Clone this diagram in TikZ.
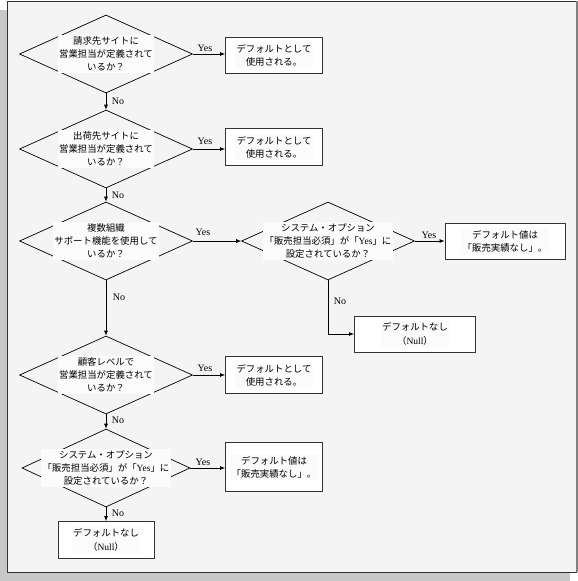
\documentclass[tikz,border=0pt]{standalone}
\usepackage{fontspec}
\setmainfont{Liberation Serif}
\newfontfamily\cjk{Noto Sans CJK JP}
\usetikzlibrary{shapes.geometric,arrows.meta}
\definecolor{pagebg}{HTML}{F4F4F4}
\definecolor{shadowc}{HTML}{C8C8C8}
\definecolor{textbg}{HTML}{FBFBFB}
\tikzset{
  dia/.style={diamond,draw=black,line width=0.7pt,minimum width=173pt,minimum height=78pt,inner sep=0pt},
  dias/.style={dia,minimum width=168pt},
  box/.style={rectangle,draw=black!80,line width=0.9pt,fill=white,inner sep=0pt},
  txt/.style={align=center,font=\cjk\fontsize{9.4}{13.2}\selectfont,fill=textbg,inner sep=1.5pt},
  lbl/.style={font=\fontsize{10}{12}\selectfont,inner sep=1pt},
  arr/.style={-{Latex[length=5pt,width=4pt]},line width=0.7pt}
}
\newcommand{\rmy}[1]{{\rmfamily\fontsize{9.5}{12}\selectfont #1}}
\begin{document}
\begin{tikzpicture}[x=1pt,y=-1pt]
\useasboundingbox (0,0) rectangle (578,581);
\fill[shadowc] (0,10) rectangle (570,581);
\filldraw[fill=pagebg,draw=black!80,line width=0.9pt] (7,1) rectangle (576,572);
\draw[black!50,line width=1.6pt] (577,1) -- (577,572);

% decisions
\node[dia] (d1) at (106,54) {};
\node[txt] (t1) at (d1) {請求先サイトに\\営業担当が定義されて\\いるか？};
\node[dia] (d2) at (106,149) {};
\node[txt] (t2) at (d2) {出荷先サイトに\\営業担当が定義されて\\いるか？};
\node[dia] (d3) at (106,241) {};
\node[txt] (t3) at (d3) {複数組織\\サポート機能を使用して\\いるか？};
\node[dia] (d4) at (328,241) {};
\node[txt] (t4) at (d4) {システム・オプション\\「販売担当必須」が「\rmy{Yes}」に\\設定されているか？};
\node[dia] (d5) at (106,375) {};
\node[txt] (t5) at (d5) {顧客レベルで\\営業担当が定義されて\\いるか？};
\node[dias] (d6) at (106,468) {};
\node[txt] (t6) at (d6) {システム・オプション\\「販売担当必須」が「\rmy{Yes}」に\\設定されているか？};

% boxes
\node[box,minimum width=97pt,minimum height=36pt] (b1) at (274,55) {};
\node[txt] (u1) at (b1) {デフォルトとして\\使用される。};
\node[box,minimum width=97pt,minimum height=37pt] (b2) at (274,147) {};
\node[txt] (u2) at (b2) {デフォルトとして\\使用される。};
\node[box,minimum width=120pt,minimum height=36pt] (b3) at (505,241) {};
\node[txt] (u3) at (b3) {デフォルト値は\\「販売実績なし」。};
\node[box,minimum width=121pt,minimum height=36pt] (b4) at (415,334) {};
\node[txt] (u4) at (b4) {デフォルトなし\\（\rmy{Null}）};
\node[box,minimum width=97pt,minimum height=37pt] (b5) at (274,375) {};
\node[txt] (u5) at (b5) {デフォルトとして\\使用される。};
\node[box,minimum width=97pt,minimum height=49pt] (b6) at (274,467) {};
\node[txt] (u6) at (b6) {デフォルト値は\\「販売実績なし」。};
\node[box,minimum width=96pt,minimum height=37pt] (b7) at (106,540) {};
\node[txt] (u7) at (b7) {デフォルトなし\\（\rmy{Null}）};

% connectors
\draw[arr] (d1.east) -- (d1.east -| b1.west);
\draw[arr] (d1.south) -- (d2.north);
\draw[arr] (d2.east) -- (d2.east -| b2.west);
\draw[arr] (d2.south) -- (d3.north);
\draw[arr] (d3.east) -- (d4.west);
\draw[arr] (d4.east) -- (d4.east -| b3.west);
\draw[arr] (d4.south) |- (b4.west);
\draw[arr] (d3.south) -- (d5.north);
\draw[arr] (d5.east) -- (d5.east -| b5.west);
\draw[arr] (d5.south) -- (d6.north);
\draw[arr] (d6.east) -- (d6.east -| b6.west);
\draw[arr] (d6.south) -- (b7.north);

% labels
\node[lbl] (y1) at (205,48) {Yes};
\node[lbl] (n1) at (118,101) {No};
\node[lbl] (y2) at (205,141) {Yes};
\node[lbl] (n2) at (118,195) {No};
\node[lbl] (y3) at (203,232) {Yes};
\node[lbl] (y4) at (429,235) {Yes};
\node[lbl] (n3) at (119,297) {No};
\node[lbl] (n4) at (340,301) {No};
\node[lbl] (y5) at (205,368) {Yes};
\node[lbl] (n5) at (118,420) {No};
\node[lbl] (y6) at (203,462) {Yes};
\node[lbl] (n6) at (118,513) {No};
\end{tikzpicture}
\end{document}
